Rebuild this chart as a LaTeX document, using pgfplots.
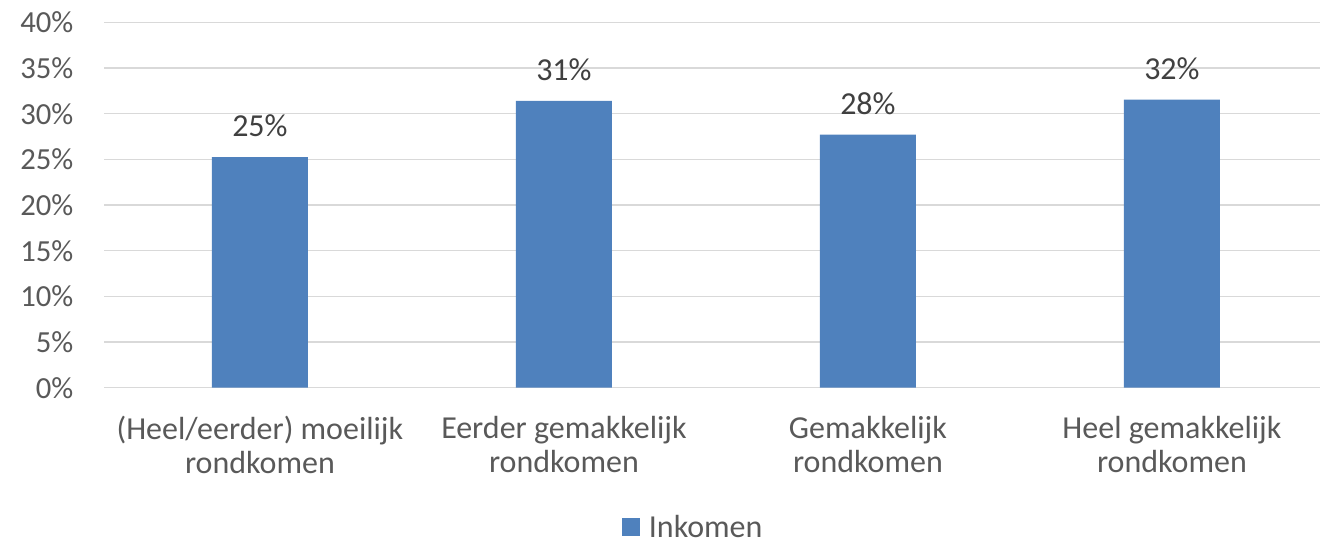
\documentclass[border=0pt]{standalone}
\usepackage{fontspec}
\setmainfont{Carlito}
\usepackage{pgfplots}
\pgfplotsset{compat=1.18}
\definecolor{barblue}{HTML}{4F81BD}
\definecolor{gridgray}{HTML}{D9D9D9}
\definecolor{ticktext}{HTML}{595959}
\definecolor{labeltext}{HTML}{404040}
\begin{document}
\begin{tikzpicture}
\path[use as bounding box] (-78.2pt,-117.2pt) rectangle (913.3pt,290.8pt);
\begin{axis}[
  scale only axis,
  width=912pt, height=274pt,
  xmin=-0.512, xmax=3.488, ymin=0, ymax=40,
  ybar, bar width=72pt,
  axis line style={draw=none},
  major tick length=0pt,
  ymajorgrids, grid style={gridgray, line width=1pt},
  ytick={0,5,...,40},
  yticklabel={\pgfmathprintnumber{\tick}\%},
  /pgf/number format/assume math mode=true,
  yticklabel style={font=\fontsize{23}{27}\selectfont, text=ticktext, inner sep=0pt, anchor=east, xshift=-23pt},
  xtick={0,1,2,3},
  xticklabels={{(Heel/eerder) moeilijk\\rondkomen}, {Eerder gemakkelijk\\rondkomen}, {Gemakkelijk\\rondkomen}, {Heel gemakkelijk\\rondkomen}},
  xticklabel style={font=\fontsize{24}{25.5}\selectfont, text=ticktext, align=center, inner sep=0pt, anchor=north, yshift=-21.2pt},
  nodes near coords={\pgfmathprintnumber[fixed,precision=0]{\pgfplotspointmeta}\%},
  nodes near coords style={font=\fontsize{24}{27}\selectfont, text=labeltext, anchor=south, inner sep=0pt, yshift=15pt},
  legend style={draw=none, fill=none, at={(0.4252,-0.3812)}, anchor=west, inner sep=0pt,
    font=\fontsize{24}{27}\selectfont, text=ticktext, nodes={inner sep=0pt}},
  legend image code/.code={\fill[barblue] (0pt,-6.75pt) rectangle (13.5pt,6.75pt); \path (20.5pt,0pt);},
]
\addplot[fill=barblue, draw=none] coordinates {(0,25.25) (1,31.4) (2,27.7) (3,31.55)};
\addlegendentry{Inkomen}
\end{axis}
\end{tikzpicture}
\end{document}
